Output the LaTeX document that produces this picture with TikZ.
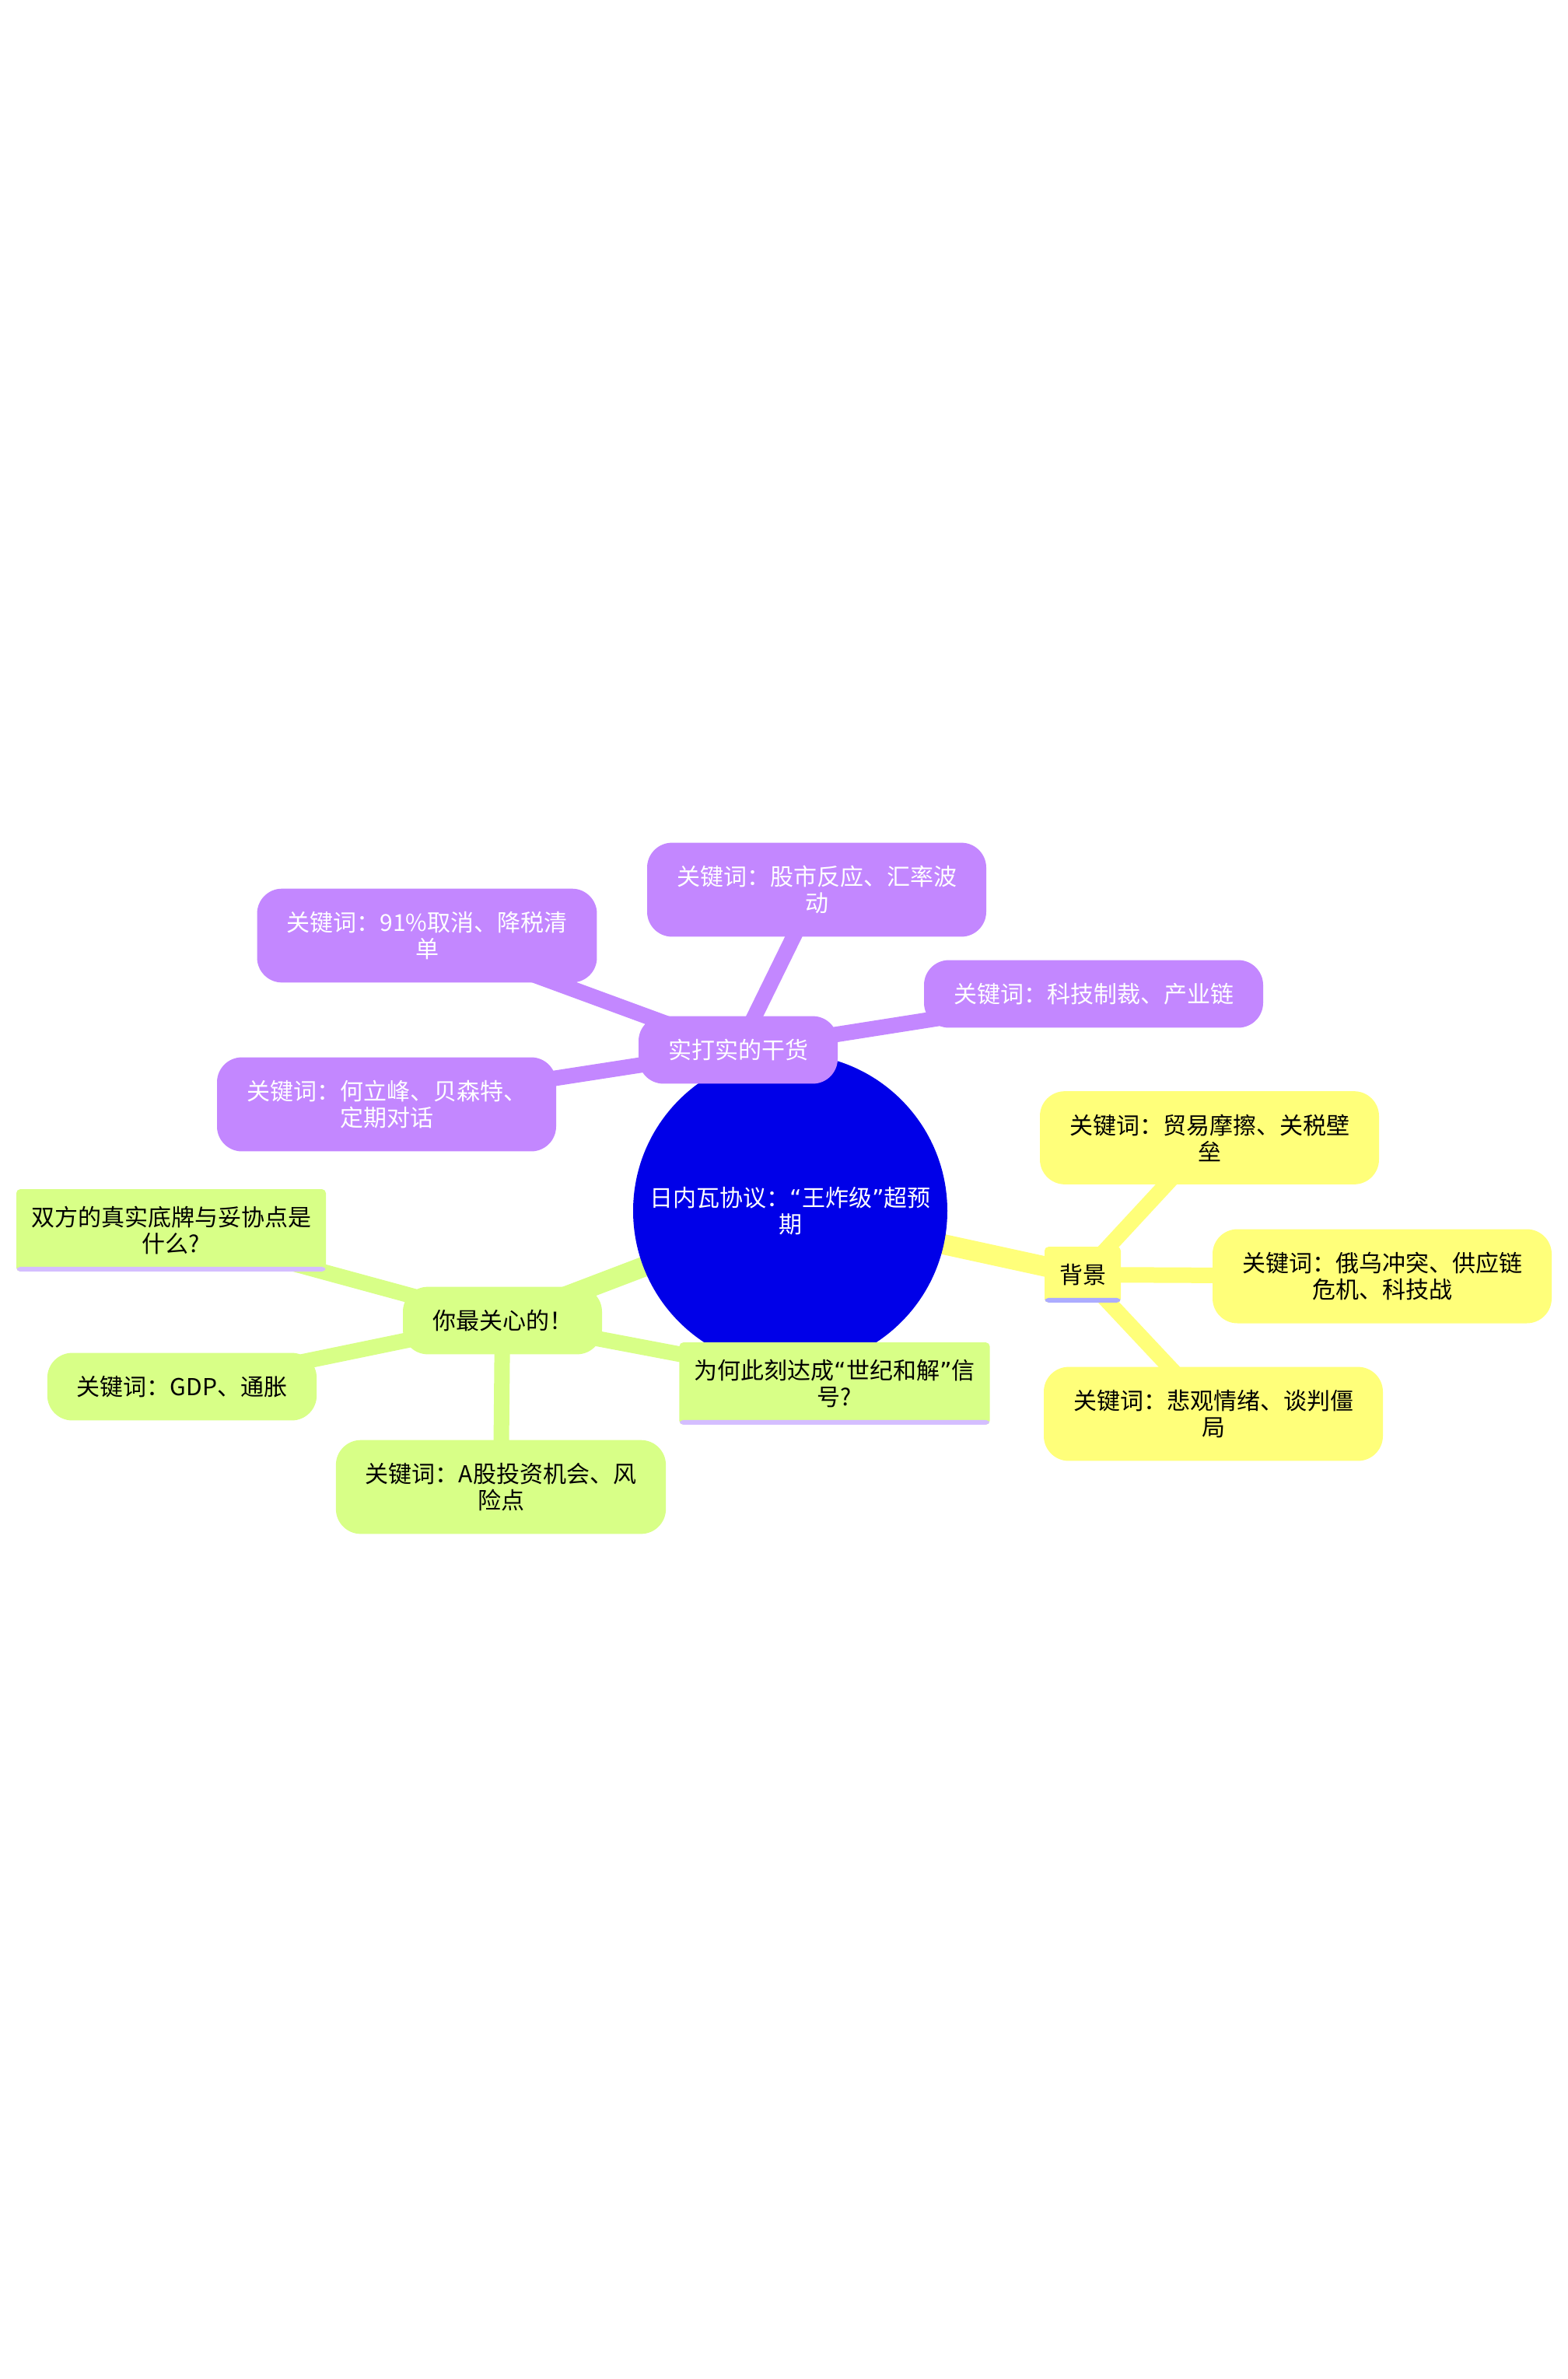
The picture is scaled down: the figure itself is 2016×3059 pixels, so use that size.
\documentclass[tikz,border=0pt]{standalone}
\usepackage{fontspec}
\setmainfont{Noto Sans CJK SC}
\newfontfamily\quotefont{DejaVu Sans}
\usepackage{tikz}
\usetikzlibrary{shapes,positioning,backgrounds}
\newcommand{\mmfont}{\fontsize{15pt}{17pt}\selectfont}
\newcommand{\oq}{{\quotefont “}}
\newcommand{\cq}{{\quotefont ”}}
\definecolor{blue}{RGB}{0, 0, 232}
\definecolor{purple}{RGB}{195, 135, 255}
\definecolor{yellow}{RGB}{255, 255, 122}
\definecolor{green}{RGB}{216, 255, 135}
\definecolor{lavender}{RGB}{172, 172, 255}
\definecolor{lilac}{RGB}{212, 190, 255}
\tikzstyle{core} = [circle, draw=none, fill=blue, text=white, align=center, font=\mmfont, minimum size=202pt, inner sep=0pt]
\tikzstyle{purplebox} = [rectangle, rounded corners=16pt, fill=purple, text=white, align=center, font=\mmfont, inner xsep=19pt, inner ysep=14.75pt]
\tikzstyle{yellowbox} = [rectangle, rounded corners=16pt, fill=yellow, text=black, align=center, font=\mmfont, inner xsep=19pt, inner ysep=14.75pt]
\tikzstyle{greenbox} = [rectangle, rounded corners=16pt, fill=green, text=black, align=center, font=\mmfont, inner xsep=19pt, inner ysep=14.75pt]
\tikzstyle{yellowrect} = [rectangle, rounded corners=2.5pt, fill=yellow, text=black, align=center, font=\mmfont, inner xsep=9.5pt, inner ysep=11pt, path picture={\fill[lavender] (path picture bounding box.south west) rectangle ([yshift=3pt]path picture bounding box.south east);}]
\tikzstyle{greenrect} = [rectangle, rounded corners=2.5pt, fill=green, text=black, align=center, font=\mmfont, inner xsep=9.5pt, inner ysep=11pt, path picture={\fill[lilac] (path picture bounding box.south west) rectangle ([yshift=3pt]path picture bounding box.south east);}]
\tikzstyle{trunk} = [draw, line width=13pt]
\tikzstyle{twig} = [draw, line width=10pt]

\begin{document}
\begin{tikzpicture}[x=0.5pt, y=-0.5pt]
\useasboundingbox (0,0) rectangle (2016,3059);

% root =============================
\node[core] (root) at (1016,1557) {日内瓦协议：\oq 王炸级\cq 超预\\期};

% purple branch
\node[purplebox] (goods) at (949,1350) {实打实的干货};
\node[purplebox] (tax) at (549,1203) {关键词：91\%取消、降税清\\单};
\node[purplebox] (stock) at (1050,1144) {关键词：股市反应、汇率波\\动};
\node[purplebox] (tech) at (1406,1278) {关键词：科技制裁、产业链};
\node[purplebox] (talks) at (497,1420) {关键词：何立峰、贝森特、\\定期对话};

% yellow branch
\node[yellowrect] (bg) at (1392,1639) {背景};
\node[yellowbox] (trade) at (1555,1463) {关键词：贸易摩擦、关税壁\\垒};
\node[yellowbox] (war) at (1777,1641) {关键词：俄乌冲突、供应链\\危机、科技战};
\node[yellowbox] (mood) at (1560,1818) {关键词：悲观情绪、谈判僵\\局};

% green branch
\node[greenbox] (care) at (646,1698) {你最关心的！};
\node[greenrect] (cards) at (220,1582) {双方的真实底牌与妥协点是\\什么?};
\node[greenbox] (gdp) at (234,1783) {关键词：GDP、通胀};
\node[greenbox] (ashare) at (644,1912) {关键词：A股投资机会、风\\险点};
\node[greenrect] (why) at (1073,1779) {为何此刻达成\oq 世纪和解\cq 信\\号?};

% edges
\begin{scope}[on background layer]
\path[trunk, purple] (root.center) edge (goods.center);
\path[trunk, yellow] (root.center) edge (bg.center);
\path[trunk, green] (root.center) edge (care.center);
\path[twig, purple] (goods.center) edge (tax.center) edge (stock.center) edge (tech.center) edge (talks.center);
\path[twig, yellow] (bg.center) edge (trade.center) edge (war.center) edge (mood.center);
\path[twig, green] (care.center) edge (cards.center) edge (gdp.center) edge (ashare.center) edge (why.center);
\end{scope}

\end{tikzpicture}
\end{document}
